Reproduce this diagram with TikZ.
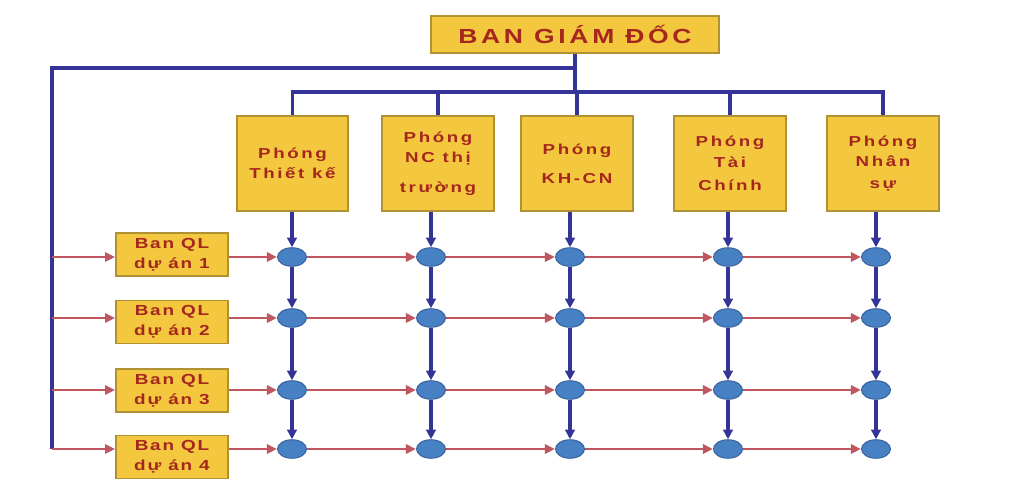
\documentclass[tikz,border=0pt]{standalone}
\usepackage{fontspec}
\setmainfont{Liberation Sans}
\newfontfamily\bfx[FakeStretch=1.3,LetterSpace=12]{Liberation Sans Bold}
\newfontfamily\bfw[FakeStretch=1.3,LetterSpace=18]{Liberation Sans Bold}
\usetikzlibrary{arrows.meta,shapes.geometric}
\definecolor{boxfill}{RGB}{244,200,62}
\definecolor{boxline}{RGB}{176,146,52}
\definecolor{txtred}{RGB}{165,38,30}
\definecolor{navy}{RGB}{52,52,150}
\definecolor{pinkred}{RGB}{192,86,96}
\definecolor{dotfill}{RGB}{72,128,196}
\definecolor{dotline}{RGB}{58,100,160}
\tikzset{
  ybox/.style={draw=boxline, fill=boxfill, line width=1pt, inner sep=0pt, text=txtred, align=center},
  topbox/.style={ybox, minimum width=5.76cm, minimum height=0.74cm, font=\bfw\fontsize{11.6}{13}\selectfont},
  deptbox/.style={ybox, minimum width=2.23cm, minimum height=1.9cm, font=\bfw\fontsize{8.2}{11.6}\selectfont},
  qlbox/.style={ybox, minimum width=2.24cm, minimum height=0.86cm, font=\bfx\fontsize{8.3}{11.3}\selectfont},
  dot/.style={ellipse, draw=dotline, fill=dotfill, line width=0.6pt, minimum width=0.58cm, minimum height=0.37cm, inner sep=0pt},
  blueline/.style={draw=navy, line width=2.2pt},
  bluearrow/.style={blueline, -{Triangle[length=1.9mm,width=1.9mm]}},
  redarrow/.style={draw=pinkred, line width=1.6pt, -{Triangle[length=2mm,width=1.8mm]}}
}
\begin{document}
\begin{tikzpicture}[x=0.02cm,y=-0.02cm]
\useasboundingbox[fill=white] (0,0) rectangle (1022,504);

% director
\node[topbox] (gd) at (575,34.5) {BAN GIÁM ĐỐC};

% departments
\node[deptbox] (p1) at (292.5,163.5) {Phóng\\Thiết kế};
\node[deptbox] (p2) at (438,163.5) {Phóng\\NC thị\\[5.5pt]trường};
\node[deptbox] (p3) at (577,163.5) {Phóng\\[5pt]KH-CN};
\node[deptbox] (p4) at (730,163.5) {Phóng\\Tài\\[1.7pt]Chính};
\node[deptbox] (p5) at (883,163.5) {Phóng\\Nhân\\[0.6pt]sự};

% project boards
\node[qlbox] (b1) at (172,254.5) {Ban QL\\dự án 1};
\node[qlbox] (b2) at (172,322) {Ban QL\\dự án 2};
\node[qlbox] (b3) at (172,390.5) {Ban QL\\dự án 3};
\node[qlbox] (b4) at (172,457) {Ban QL\\dự án 4};

% matrix nodes
\foreach \c/\x in {1/292,2/431,3/570,4/728,5/876}
  \foreach \r/\y in {1/257,2/318,3/390,4/449}
    \node[dot] (e\c\r) at (\x,\y) {};

% helper coordinates
\coordinate (bus) at (0,92);
\coordinate (ob) at (0,68);
\coordinate (lx) at (52,0);

% director to departments
\draw[blueline] (gd.south) -- (gd.south |- bus);
\draw[blueline] (p1.north) -- (p1.north |- bus) -- (p5.north |- bus) -- (p5.north);
\foreach \k in {2,3,4}
  \draw[blueline] (p\k.north) -- (p\k.north |- bus);

% director to project boards (outer line)
\draw[blueline] (gd.south |- ob) -- (lx |- ob) -- (lx |- e14);

% left branches into project boards, boards into matrix
\foreach \r in {1,2,3,4}{
  \draw[redarrow] (lx |- e1\r) -- (b\r.west |- e1\r);
  \draw[redarrow] (b\r.east |- e1\r) -- (e1\r);
  \draw[redarrow] (e1\r) -- (e2\r);
  \draw[redarrow] (e2\r) -- (e3\r);
  \draw[redarrow] (e3\r) -- (e4\r);
  \draw[redarrow] (e4\r) -- (e5\r);
}

% department columns
\foreach \c in {1,2,3,4,5}{
  \draw[bluearrow] (p\c.south -| e\c1) -- (e\c1);
  \draw[bluearrow] (e\c1) -- (e\c2);
  \draw[bluearrow] (e\c2) -- (e\c3);
  \draw[bluearrow] (e\c3) -- (e\c4);
}
\end{tikzpicture}
\end{document}
